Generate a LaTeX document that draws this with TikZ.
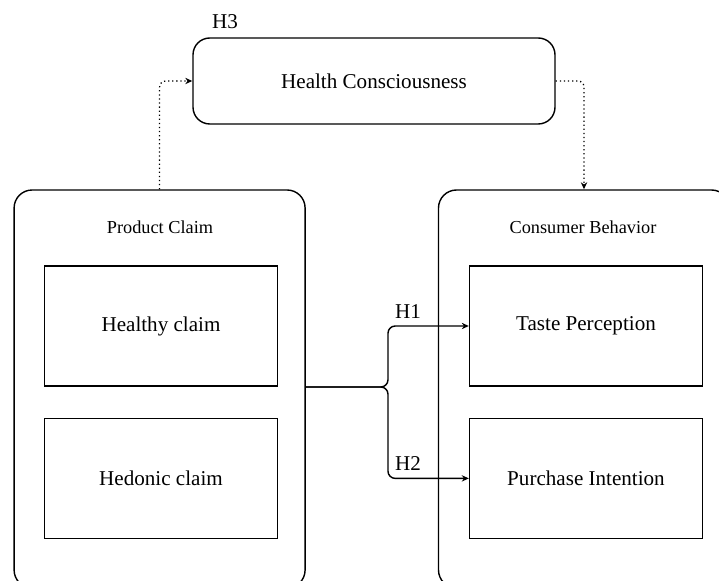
\documentclass[tikz,border=0pt]{standalone}
\usepackage{fontspec}
\setmainfont{Liberation Serif}
\usetikzlibrary{arrows.meta}

\begin{document}
\begin{tikzpicture}[
		outer/.style={draw,line width=1pt,rounded corners=0.45cm,minimum width=7.275cm,minimum height=9.95cm},
		inner/.style={draw,line width=1pt,minimum width=5.825cm,minimum height=3cm,font=\fontsize{15}{18}\selectfont},
		title/.style={font=\fontsize{13}{16}\selectfont},
		hyp/.style={font=\fontsize{15}{18}\selectfont},
		arr/.style={-{Stealth[length=5pt,width=4.5pt]}}]
			\useasboundingbox (0,0) rectangle (17.975,-14.525);
			\node[draw,line width=1pt,rounded corners=0.42cm,minimum width=9.05cm,minimum height=2.15cm,font=\fontsize{15}{18}\selectfont](hc) at (9.35,-2.025){Health Consciousness};
			\node[outer](pc) at (3.99,-9.725){};
			\node[outer](cb) at (14.6,-9.725){};
			\node[title](pct) at (4.0,-5.675){Product Claim};
			\node[title](cbt) at (14.575,-5.675){Consumer Behavior};
			\node[inner](hl) at (4.025,-8.15){Healthy claim};
			\node[inner](hd) at (4.025,-11.96){Hedonic claim};
			\node[inner](tp) at (14.65,-8.15){Taste Perception};
			\node[inner](pi) at (14.65,-11.96){Purchase Intention};
			\coordinate (j) at (9.7,-9.675);
			\node[hyp](h3) at (5.625,-0.55){H3};
			\node[hyp](h1) at (10.2,-7.8){H1};
			\node[hyp](h2) at (10.2,-11.6){H2};
			\draw[dotted,line width=0.9pt,arr,rounded corners=0.15cm] (pc.north)|-(hc.west);
			\draw[dotted,line width=0.9pt,arr,rounded corners=0.15cm] (hc.east)-|(cb.north);
			\draw[line width=1pt,arr,rounded corners=0.18cm] (pc.east|-j)--(j)|-(tp.west);
			\draw[line width=1pt,arr,rounded corners=0.18cm] (pc.east|-j)--(j)|-(pi.west);
		\end{tikzpicture}
\end{document}
